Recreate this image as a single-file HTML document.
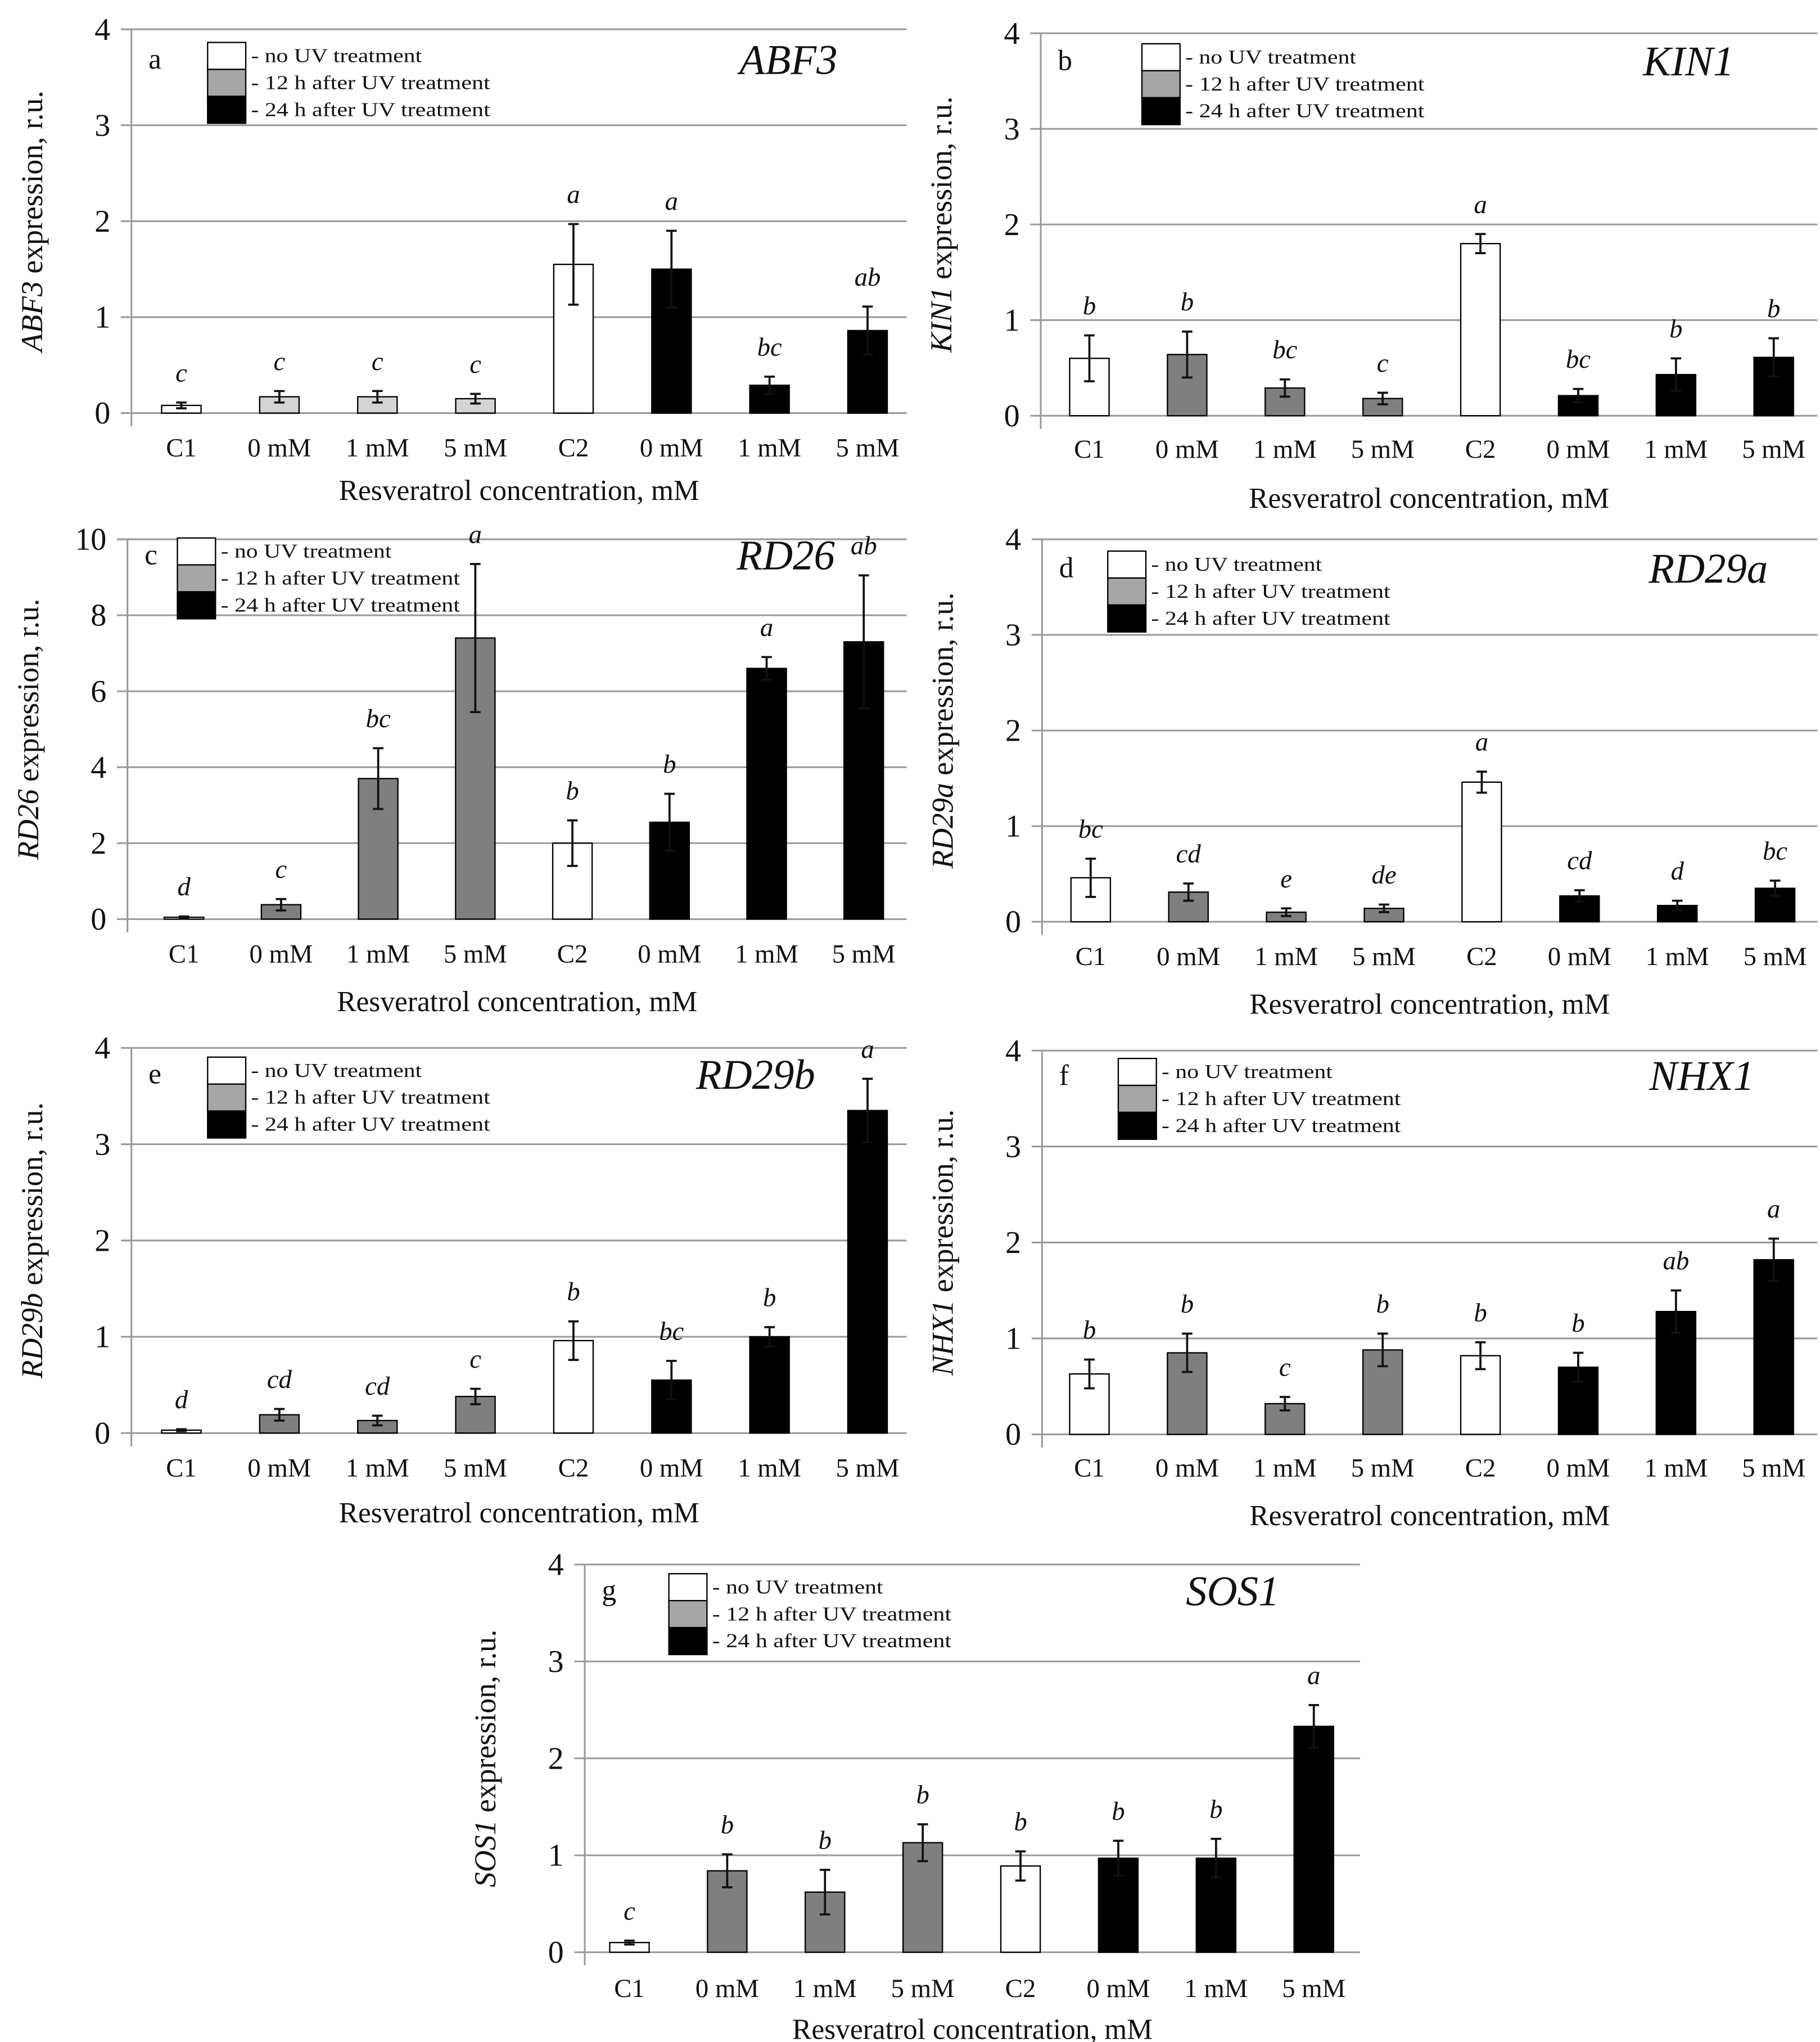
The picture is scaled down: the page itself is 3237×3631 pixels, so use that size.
<!DOCTYPE html>
<html><head><meta charset="utf-8"><style>
html,body{margin:0;padding:0;background:#fff}
svg{display:block}
text{font-family:"Liberation Serif",serif;fill:#111}
</style></head><body>
<svg id="fig" width="3237" height="3631" viewBox="0 0 1385 1553" xmlns="http://www.w3.org/2000/svg"></svg>
<script>
const categories=["C1","0 mM","1 mM","5 mM","C2","0 mM","1 mM","5 mM"];
const legendLabels=["- no UV treatment","- 12 h after  UV treatment","- 24 h after  UV treatment"];
const abf3Values=[0.08,0.17,0.17,0.15,1.55,1.5,0.29,0.86];
const abf3Errors=[0.03,0.06,0.06,0.05,0.42,0.4,0.09,0.25];
const abf3Letters=["c","c","c","c","a","a","bc","ab"];
const kin1Values=[0.6,0.64,0.29,0.18,1.8,0.21,0.43,0.61];
const kin1Errors=[0.24,0.24,0.09,0.06,0.1,0.07,0.17,0.2];
const kin1Letters=["b","b","bc","c","a","bc","b","b"];
const rd26Values=[0.05,0.38,3.7,7.4,2.0,2.55,6.6,7.3];
const rd26Errors=[0.02,0.15,0.8,1.95,0.6,0.75,0.3,1.75];
const rd26Letters=["d","c","bc","a","b","b","a","ab"];
const rd29aValues=[0.46,0.31,0.1,0.14,1.46,0.27,0.17,0.35];
const rd29aErrors=[0.2,0.09,0.04,0.04,0.11,0.06,0.05,0.08];
const rd29aLetters=["bc","cd","e","de","a","cd","d","bc"];
const rd29bValues=[0.03,0.19,0.13,0.38,0.96,0.55,1.0,3.35];
const rd29bErrors=[0.01,0.06,0.05,0.08,0.2,0.2,0.1,0.33];
const rd29bLetters=["d","cd","cd","c","b","bc","b","a"];
const nhx1Values=[0.63,0.85,0.32,0.88,0.82,0.7,1.28,1.82];
const nhx1Errors=[0.15,0.2,0.07,0.17,0.14,0.15,0.22,0.22];
const nhx1Letters=["b","b","c","b","b","b","ab","a"];
const sos1Values=[0.1,0.84,0.62,1.13,0.89,0.97,0.97,2.33];
const sos1Errors=[0.02,0.17,0.23,0.19,0.15,0.18,0.2,0.22];
const sos1Letters=["c","b","b","b","b","b","b","a"];
const ticks4=[0,1,2,3,4];
const ticks10=[0,2,4,6,8,10];

const NS="http://www.w3.org/2000/svg";
const svg=document.getElementById("fig");
function mk(tag,attrs,parent){const e=document.createElementNS(NS,tag);for(const k in attrs)e.setAttribute(k,attrs[k]);(parent||svg).appendChild(e);return e;}

function panel(p){
  const g=mk("g",{});
  
  
  const max=p.ticks[p.ticks.length-1];
  const y=v=>p.zero-v/max*(p.zero-p.top);
  const x=i=>p.first+i*p.step;
  p.ticks.forEach(t=>{
    const l=mk("line",{x1:p.left-8,x2:p.right,y1:y(t),y2:y(t),stroke:"#999","stroke-width":1.3},g);
    
    
    const tx=mk("text",{x:p.left-16,y:y(t)+8,"text-anchor":"end","font-size":24},g);
    
    
    tx.textContent=t;
  });
  const ax=mk("line",{x1:p.left,x2:p.left,y1:p.top,y2:p.zero+10,stroke:"#999","stroke-width":1.3},g);
  
  
  const bw=30;
  p.values.forEach((v,i)=>{
    const fill=p.colors[i];
    const r=mk("rect",{x:x(i)-bw/2,y:y(v),width:bw,height:p.zero-y(v),fill:fill,stroke:"#000","stroke-width":1},g);
    
    
    const e=p.errors[i],top=y(v+e),bot=y(v-e);
    const eb=mk("path",{d:`M${x(i)},${top}V${bot}M${x(i)-4},${top}H${x(i)+4}M${x(i)-4},${bot}H${x(i)+4}`,stroke:"#111","stroke-width":1.6,fill:"none"},g);
    
    
    const lt=mk("text",{x:x(i),y:top-16,"text-anchor":"middle","font-size":20,"font-style":"italic"},g);
    
    
    lt.textContent=p.letters[i];
    const cl=mk("text",{x:x(i),y:p.labelY,"text-anchor":"middle","font-size":20},g);
    
    
    cl.textContent=categories[i];
  });
  const xt=mk("text",{x:(p.left+p.right)/2,y:p.titleY,"text-anchor":"middle","font-size":22},g);
  
  
  xt.textContent="Resveratrol concentration, mM";
  const cy=(p.top+p.zero)/2;
  const yt=mk("text",{x:0,y:0,"text-anchor":"middle","font-size":23,transform:`translate(${p.left-68},${cy}) rotate(-90)`},g);
  
  
  const ts=mk("tspan",{"font-style":"italic"},yt);ts.textContent=p.gene;
  const ts2=mk("tspan",{},yt);ts2.textContent=" expression, r.u.";
  const pl=mk("text",{x:p.left+13,y:p.lgTop+20,"font-size":22},g);
  
  
  pl.textContent=p.id;
  const gn=mk("text",{x:p.geneX,y:p.lgTop+24,"text-anchor":"middle","font-size":32,"font-style":"italic"},g);
  
  
  gn.textContent=p.gene;
  const lc=["#fff",p.gray,"#000"];
  legendLabels.forEach((s,k)=>{
    const lr=mk("rect",{x:p.lgX,y:p.lgTop+k*20.5,width:29,height:20.5,fill:lc[k],stroke:"#000","stroke-width":1},g);
    
    
    const lt=mk("text",{x:p.lgX+33,y:p.lgTop+k*20.5+15,"font-size":15,textLength:k==0?130:182,lengthAdjust:"spacingAndGlyphs"},g);
    
    
    lt.textContent=s;
  });
}
const W="#fff",G="#7f7f7f",L="#d4d4d4",B="#000";
panel({id:"a",gene:"ABF3",values:abf3Values,errors:abf3Errors,letters:abf3Letters,colors:[W,L,L,L,W,B,B,B],gray:"#a6a6a6",ticks:ticks4,left:100,right:690,top:22,zero:314,first:138,step:74.6,labelY:347,titleY:380,lgX:158,lgTop:32,geneX:600});
panel({id:"b",gene:"KIN1",values:kin1Values,errors:kin1Errors,letters:kin1Letters,colors:[W,G,G,G,W,B,B,B],gray:"#a6a6a6",ticks:ticks4,left:792,right:1383,top:25,zero:316,first:829,step:74.4,labelY:348,titleY:386,lgX:869,lgTop:33,geneX:1285});
panel({id:"c",gene:"RD26",values:rd26Values,errors:rd26Errors,letters:rd26Letters,colors:[W,G,G,G,W,B,B,B],gray:"#a6a6a6",ticks:ticks10,left:97,right:690,top:410,zero:699,first:140,step:73.9,labelY:732,titleY:769,lgX:135,lgTop:409,geneX:598});
panel({id:"d",gene:"RD29a",values:rd29aValues,errors:rd29aErrors,letters:rd29aLetters,colors:[W,G,G,G,W,B,B,B],gray:"#a6a6a6",ticks:ticks4,left:793,right:1383,top:410,zero:701,first:830,step:74.4,labelY:734,titleY:771,lgX:843,lgTop:419,geneX:1300});
panel({id:"e",gene:"RD29b",values:rd29bValues,errors:rd29bErrors,letters:rd29bLetters,colors:[W,G,G,G,W,B,B,B],gray:"#a6a6a6",ticks:ticks4,left:100,right:690,top:797,zero:1090,first:138,step:74.6,labelY:1123,titleY:1158,lgX:158,lgTop:804,geneX:575});
panel({id:"f",gene:"NHX1",values:nhx1Values,errors:nhx1Errors,letters:nhx1Letters,colors:[W,G,G,G,W,B,B,B],gray:"#a6a6a6",ticks:ticks4,left:793,right:1383,top:799,zero:1091,first:829,step:74.4,labelY:1123,titleY:1160,lgX:851,lgTop:805,geneX:1295});
panel({id:"g",gene:"SOS1",values:sos1Values,errors:sos1Errors,letters:sos1Letters,colors:[W,G,G,G,W,B,B,B],gray:"#a6a6a6",ticks:ticks4,left:445,right:1035,top:1190,zero:1485,first:479,step:74.4,labelY:1519,titleY:1551,lgX:509,lgTop:1197,geneX:938});
</script>
</body></html>
